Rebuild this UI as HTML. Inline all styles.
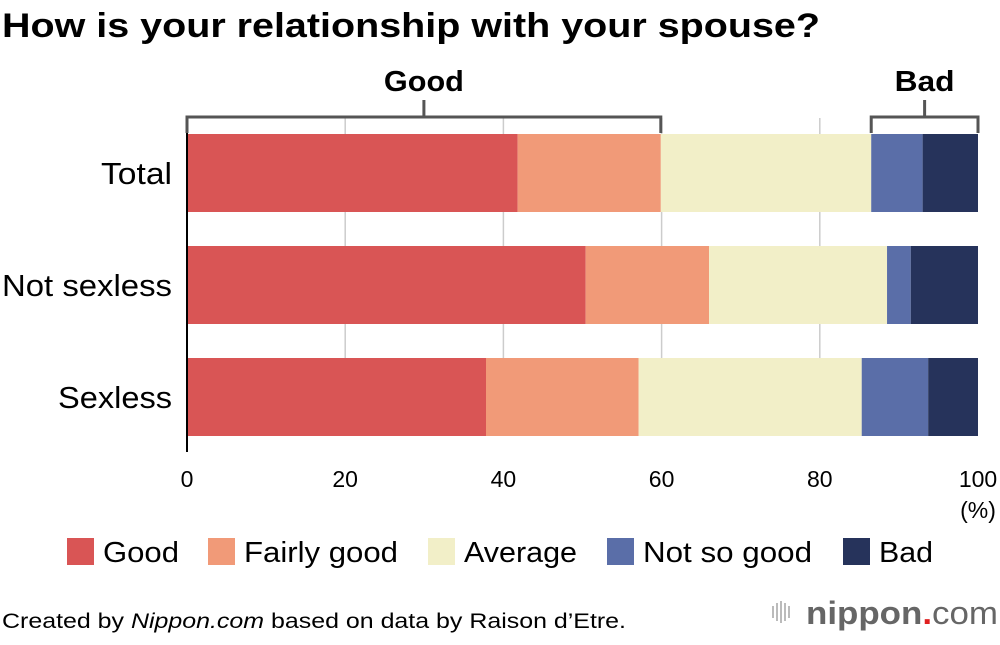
<!DOCTYPE html>
<html><head><meta charset="utf-8"><style>
body{margin:0;width:1000px;height:640px;background:#fff;font-family:"Liberation Sans",sans-serif;overflow:hidden}
</style></head><body>
<svg width="1000" height="640" xmlns="http://www.w3.org/2000/svg" id="svg">
<text x="2" y="37" font-size="34" font-weight="bold" fill="#000" textLength="818" lengthAdjust="spacingAndGlyphs">How is your relationship with your spouse?</text>
<text x="2" y="628" font-size="21" fill="#000" textLength="624" lengthAdjust="spacingAndGlyphs">Created by <tspan font-style="italic">Nippon.com</tspan> based on data by Raison d’Etre.</text>
<g>
<rect x="772" y="606" width="2" height="12" fill="#bbb"/><rect x="776" y="603" width="2" height="18" fill="#bbb"/><rect x="780" y="601" width="2" height="22" fill="#bbb"/><rect x="784" y="603" width="2" height="18" fill="#bbb"/><rect x="788" y="606" width="2" height="12" fill="#bbb"/>
<text x="806" y="624" font-size="32" fill="#666" font-weight="bold" textLength="192" lengthAdjust="spacingAndGlyphs">nippon<tspan fill="#e02020">.</tspan><tspan font-weight="normal">com</tspan></text>
</g>
<g id="grid"></g><g id="bars"></g><g id="axis"></g><g id="legend"></g>
</svg>
<script>
const categories=["Total","Not sexless","Sexless"];
const seriesNames=["Good","Fairly good","Average","Not so good","Bad"];
const good=[41.8,50.4,37.8];
const fairlyGood=[18.1,15.6,19.3];
const average=[26.6,22.5,28.2];
const notSoGood=[6.5,3.0,8.4];
const bad=[7.0,8.5,6.3];
const ticks=[0,20,40,60,80,100];
const colors=["#d95555","#f19a78","#f2efc8","#5a6ea8","#26335b"];
const NS="http://www.w3.org/2000/svg";
const X0=187,X1=978,xs=v=>X0+(X1-X0)*v/100;
const rowY=i=>134+112*i,BH=78;
function mk(t,a,p){const e=document.createElementNS(NS,t);for(const k in a)e.setAttribute(k,a[k]);p.appendChild(e);return e;}
const grid=document.getElementById('grid'),barsG=document.getElementById('bars'),axis=document.getElementById('axis'),leg=document.getElementById('legend');
ticks.forEach(t=>{
 if(t>0&&t<100){const l=mk('line',{x1:xs(t),x2:xs(t),y1:118,y2:436,stroke:'#ccc','stroke-width':1.5},grid);
 
 }
 const tx=mk('text',{x:xs(t),y:487,'font-size':23,'text-anchor':'middle',fill:'#000'},axis);tx.textContent=t;
 
 
});
const pct=mk('text',{x:978,y:518,'font-size':23,'text-anchor':'middle'},axis);pct.textContent='(%)';


const series=[good,fairlyGood,average,notSoGood,bad];
const ylw=[71,170,114];
categories.forEach((c,i)=>{
 let acc=0;
 series.forEach((s,j)=>{
  const r=mk('rect',{x:xs(acc),y:rowY(i),width:xs(acc+s[i])-xs(acc),height:BH,fill:colors[j]},barsG);
  
  
  acc+=s[i];
 });
 const lb=mk('text',{x:172-ylw[i],y:rowY(i)+BH/2+11,'font-size':31,textLength:ylw[i],lengthAdjust:'spacingAndGlyphs'},axis);lb.textContent=c;
 
 
});
const ax=mk('line',{x1:X0,x2:X0,y1:118,y2:452,stroke:'#000','stroke-width':2},axis);


function bracket(a,b,label,w){
 const g=mk('g',{},axis);
 
 
 const x1=xs(a),x2=xs(b),m=(x1+x2)/2;
 mk('path',{d:`M${x1},133V117H${x2}V133M${m},117V100`,fill:'none',stroke:'#555','stroke-width':3},g);
 const t=mk('text',{x:m-w/2,y:91,'font-size':29,'font-weight':'bold',textLength:w,lengthAdjust:'spacingAndGlyphs'},g);t.textContent=label;
}
bracket(0,good[0]+fairlyGood[0],'Good',80);
bracket(100-notSoGood[0]-bad[0],100,'Bad',60);
const lx=[67,208,428,607,843];
const lw=[76,154,113,169,54];
seriesNames.forEach((n,j)=>{
 const g=mk('g',{},leg);
 
 
 mk('rect',{x:lx[j],y:538,width:27,height:27,fill:colors[j]},g);
 const t=mk('text',{x:lx[j]+36,y:562,'font-size':29,textLength:lw[j],lengthAdjust:'spacingAndGlyphs'},g);t.textContent=n;
});
</script>
</body></html>
